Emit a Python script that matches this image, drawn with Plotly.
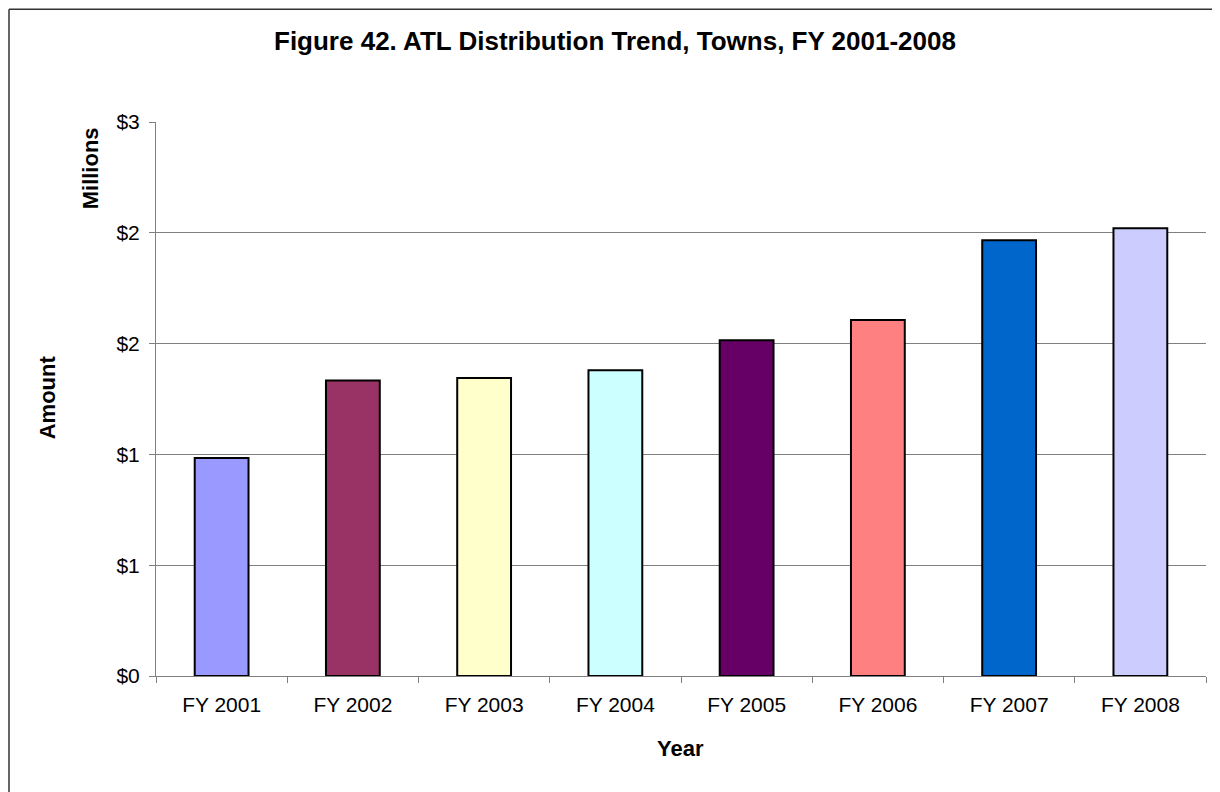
import plotly.graph_objects as go

categories = ["FY 2001", "FY 2002", "FY 2003", "FY 2004", "FY 2005", "FY 2006", "FY 2007", "FY 2008"]
amounts_millions = [0.984, 1.334, 1.345, 1.380, 1.515, 1.607, 1.966, 2.020]
bar_colors = ["#9999FF", "#993366", "#FFFFCC", "#CCFFFF", "#660066", "#FF8080", "#0066CC", "#CCCCFF"]
y_tick_values = [0, 0.5, 1.0, 1.5, 2.0, 2.5]
y_tick_labels = ["$0", "$1", "$1", "$2", "$2", "$3"]

FONT = "Arial, 'Liberation Sans', sans-serif"

# page offset from the default 8px body margin of the html page
OFF = 8
PL, PT, PR, PB = 156, 121.7, 1206, 675.7  # desired plot-area edges on the page
PW, PH = PR - PL, PB - PT


def px(x):
    return (x - PL) / PW


def py(y):
    return (PB - y) / PH


fig = go.Figure()
fig.add_trace(go.Bar(
    x=categories,
    y=amounts_millions,
    marker=dict(color=bar_colors, line=dict(color="#000000", width=2)),
    showlegend=False,
    hoverinfo="x+y",
))

fig.update_layout(
    width=1220,
    height=792,
    margin=dict(l=PL - OFF, r=1220 + OFF - PR, t=PT - OFF, b=792 + OFF - PB, pad=0),
    paper_bgcolor="white",
    plot_bgcolor="white",
    bargap=0.59,
    font=dict(family=FONT, color="#000000", size=21),
    xaxis=dict(
        showline=True, linecolor="#808080", linewidth=1,
        ticks="outside", tickson="boundaries", ticklen=6, tickcolor="#808080",
        tickfont=dict(size=21, family=FONT),
        ticklabelstandoff=10,
        showgrid=False,
    ),
    yaxis=dict(
        range=[0, 2.5],
        tickvals=y_tick_values,
        ticktext=y_tick_labels,
        showline=True, linecolor="#808080", linewidth=1,
        ticks="outside", ticklen=6, tickcolor="#808080",
        tickfont=dict(size=21, family=FONT),
        ticklabelstandoff=5,
        showgrid=True, gridcolor="#808080", gridwidth=1,
        zeroline=False,
    ),
    annotations=[
        dict(text="<b>Figure 42. ATL Distribution Trend, Towns, FY 2001-2008</b>",
             xref="paper", yref="paper", x=px(615), y=py(41),
             xanchor="center", yanchor="middle", showarrow=False,
             font=dict(size=26, family=FONT)),
        dict(text="<b>Millions</b>", textangle=-90,
             xref="paper", yref="paper", x=px(90), y=py(168),
             xanchor="center", yanchor="middle", showarrow=False,
             font=dict(size=22, family=FONT)),
        dict(text="<b>Amount</b>", textangle=-90,
             xref="paper", yref="paper", x=px(47), y=py(397),
             xanchor="center", yanchor="middle", showarrow=False,
             font=dict(size=22, family=FONT)),
        dict(text="<b>Year</b>",
             xref="paper", yref="paper", x=px(680), y=py(748),
             xanchor="center", yanchor="middle", showarrow=False,
             font=dict(size=22, family=FONT)),
    ],
    shapes=[
        dict(type="line", xref="paper", yref="paper",
             x0=px(OFF + 1), x1=px(1240), y0=py(OFF + 1), y1=py(OFF + 1),
             line=dict(color="#333333", width=1.5)),
        dict(type="line", xref="paper", yref="paper",
             x0=px(OFF + 1), x1=px(OFF + 1), y0=py(OFF + 1), y1=py(810),
             line=dict(color="#333333", width=1.5)),
    ],
)

fig.write_html("out.html")
